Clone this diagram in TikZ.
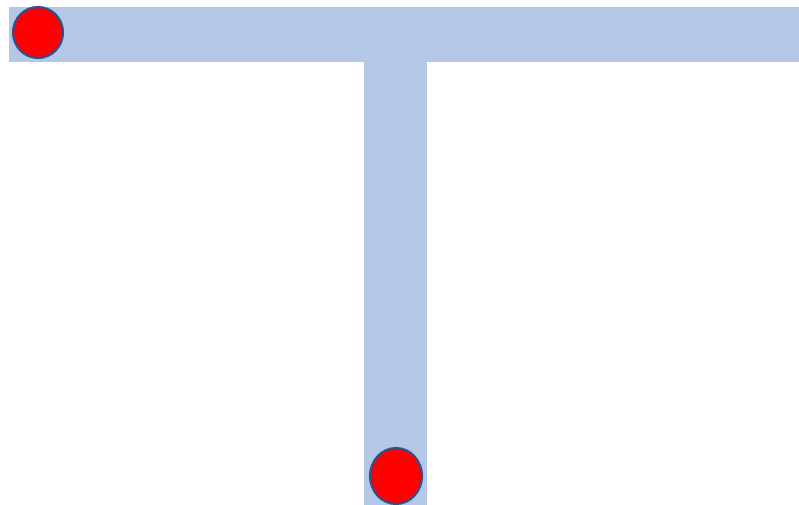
\documentclass[tikz,border=0pt]{standalone}
\usetikzlibrary{shapes.geometric}
\definecolor{barblue}{HTML}{B4C7E7}
\definecolor{rimblue}{HTML}{2F528F}
\tikzset{
bar/.style={rectangle, inner sep=0pt, outer sep=0pt, fill=barblue},
dot/.style={ellipse, inner sep=0pt, draw=rimblue, line width=1.6pt, fill=red}
}

\begin{document}
\begin{tikzpicture}[x=0.75pt,y=-0.75pt]
\useasboundingbox (0,0) rectangle (799,505);

% the two bars of the T
\node[bar, minimum width=592.5pt, minimum height=41.25pt] (hbar) at (404,34.5) {};
\node[bar, minimum width=47.25pt, minimum height=332.25pt] (vbar) at (395.5,283.5) {};

% the red dots
\node[dot, minimum width=37.5pt, minimum height=38.25pt] (dot1) at (38,32.5) {};
\node[dot, minimum width=39pt, minimum height=42pt] (dot2) at (396,476) {};

\end{tikzpicture}
\end{document}
